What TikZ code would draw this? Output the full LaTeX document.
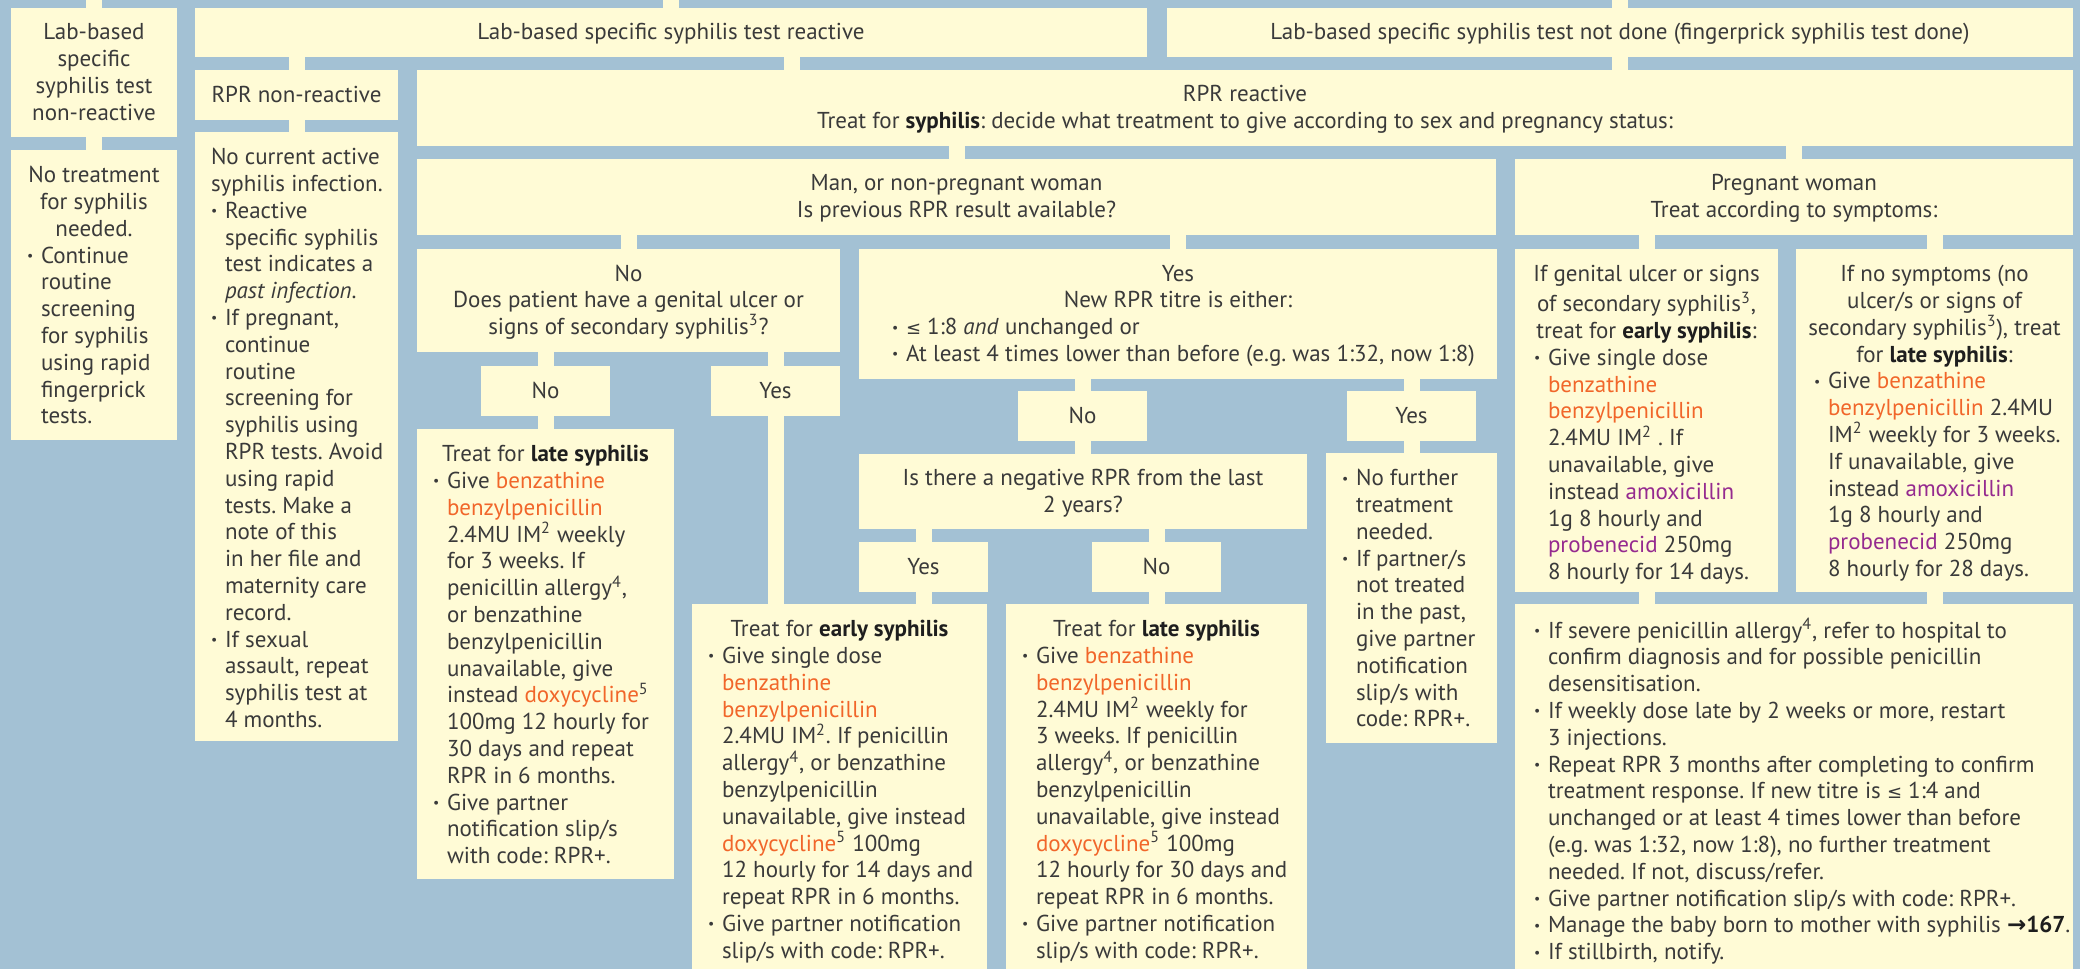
\documentclass[tikz,border=0pt]{standalone}
\usepackage{fontspec}
\setmainfont{PT Sans}
\newfontfamily\symf{DejaVu Sans}
\definecolor{bgblue}{HTML}{A3C1D4}
\definecolor{cream}{HTML}{FFFBD6}
\definecolor{txt}{HTML}{3A3A3A}
\definecolor{boldtxt}{HTML}{1E1E1E}
\definecolor{orng}{HTML}{F1662A}
\definecolor{purp}{HTML}{952A8F}
\newcommand\og[1]{\textcolor{orng}{#1}}
\newcommand\pp[1]{\textcolor{purp}{#1}}
\newcommand\sps[1]{\textsuperscript{#1}}
\newcommand\bd[1]{\textcolor{boldtxt}{\textbf{#1}}}
\newlength\padL \setlength\padL{8pt}
\newlength\hangw \setlength\hangw{7pt}
\newlength\toppad \setlength\toppad{7pt}
\newcommand\bult{\raisebox{0.12em}{\scalebox{0.6}{•}}}
\newcommand\cen[1]{{\centering\strut#1\strut\par}}
\newcommand\lft[1]{{\raggedright\leftskip=\padL\relax\noindent\strut#1\strut\par}}
\newcommand\bul[2][\padL]{{\raggedright\let\\\newline\leftskip=#1\relax\hangindent=\hangw\hangafter=1\noindent\strut\makebox[\hangw][l]{\bult}#2\strut\par}}
\newcommand\tbox[6]{%
  \pgfmathsetlengthmacro\bw{(#4-#2)*0.5}%
  \pgfmathsetlengthmacro\bh{(#5-#3)*0.5}%
  \node[bx,anchor=north west] (#1) at (#2,#3) {\parbox[c][\bh][t]{\bw}{\vspace*{\toppad}#6}};}
\newcommand\cbox[6]{%
  \pgfmathsetlengthmacro\bw{(#4-#2)*0.5}%
  \pgfmathsetlengthmacro\bh{(#5-#3)*0.5}%
  \node[bx,anchor=north west] (#1) at (#2,#3) {\parbox[c][\bh][c]{\bw}{\vspace*{2pt}#6}};}
\tikzset{
  bx/.style={fill=cream,inner sep=0pt,outer sep=0pt,text=txt,font=\fontsize{11.5}{13.4}\selectfont\frenchspacing},
  conn/.style={draw=cream,line width=8pt,shorten <=-0.6pt,shorten >=-0.6pt}
}
\begin{document}
\begin{tikzpicture}[x=0.5pt,y=-0.5pt]
\useasboundingbox (0,0) rectangle (2080,969);
\fill[bgblue] (0,0) rectangle (2080,969);
% row 1
\cbox{A}{11}{8}{177}{137}{\cen{Lab-based\\specific\\syphilis test\\non-reactive}}
\cbox{R}{195}{8}{1147}{57}{\cen{Lab-based specific syphilis test reactive}}
\cbox{ND}{1167}{8}{2073}{57}{\cen{Lab-based specific syphilis test not done (fingerprick syphilis test done)}}
\tbox{A2}{11}{150}{177}{440}{\cen{No treatment\\for syphilis\\needed.}\bul{Continue\\routine\\screening\\for syphilis\\using rapid\\fingerprick\\tests.}}
% row 2
\cbox{RN}{195}{70}{398}{120}{\cen{RPR non-reactive}}
\tbox{RN2}{195}{132}{398}{741}{\lft{No current active\\syphilis infection.}\bul{Reactive\\specific syphilis\\test indicates a\\\textit{past infection}.}\bul{If pregnant,\\continue\\routine\\screening for\\syphilis using\\RPR tests. Avoid\\using rapid\\tests. Make a\\note of this\\in her file and\\maternity care\\record.}\bul{If sexual\\assault, repeat\\syphilis test at\\4 months.}}
\cbox{RR}{417}{70}{2073}{146}{\cen{RPR reactive\\Treat for \bd{syphilis}: decide what treatment to give according to sex and pregnancy status:}}
% row 3
\cbox{M}{417}{159}{1496}{235}{\cen{Man, or non-pregnant woman\\Is previous RPR result available?}}
\cbox{P}{1515}{159}{2073}{235}{\cen{Pregnant woman\\Treat according to symptoms:}}
% row 4
\cbox{Q1}{417}{249}{840}{352}{\cen{No\\Does patient have a genital ulcer or\\signs of secondary syphilis\sps{3}?}}
\cbox{Y1}{859}{249}{1497}{379}{\cen{Yes\\New RPR titre is either:}\bul[16.5pt]{{\symf\small≤} 1:8 \textit{and} unchanged or}\bul[16.5pt]{At least 4 times lower than before (e.g. was 1:32, now 1:8)}}
\tbox{PG}{1515}{249}{1778}{592}{\cen{If genital ulcer or signs\\of secondary syphilis\sps{3},\\treat for \bd{early syphilis}:}\bul[9.5pt]{Give single dose\\\og{benzathine}\\\og{benzylpenicillin}\\2.4MU IM\sps{2} . If\\unavailable, give\\instead \pp{amoxicillin}\\1g 8 hourly and\\\pp{probenecid} 250mg\\8 hourly for 14 days.}}
\tbox{PN}{1796}{249}{2073}{592}{\cen{If no symptoms (no\\ulcer/s or signs of\\secondary syphilis\sps{3}), treat\\for \bd{late syphilis}:}\bul[9pt]{Give \og{benzathine}\\\og{benzylpenicillin} 2.4MU\\IM\sps{2} weekly for 3 weeks.\\If unavailable, give\\instead \pp{amoxicillin}\\1g 8 hourly and\\\pp{probenecid} 250mg\\8 hourly for 28 days.}}
% small boxes
\cbox{N1}{481}{366}{610}{416}{\cen{No}}
\cbox{Ys1}{711}{366}{840}{416}{\cen{Yes}}
\cbox{N2}{1018}{391}{1147}{441}{\cen{No}}
\cbox{Ys2}{1347}{391}{1476}{441}{\cen{Yes}}
\cbox{NEG}{859}{454}{1307}{529}{\cen{Is there a negative RPR from the last\\2 years?}}
\cbox{Ys3}{859}{542}{988}{592}{\cen{Yes}}
\cbox{N3}{1092}{542}{1221}{592}{\cen{No}}
% treatment boxes
\tbox{L1}{417}{429}{674}{879}{\cen{Treat for \bd{late syphilis}}\bul{Give \og{benzathine}\\\og{benzylpenicillin}\\2.4MU IM\sps{2} weekly\\for 3 weeks. If\\penicillin allergy\sps{4},\\or benzathine\\benzylpenicillin\\unavailable, give\\instead \og{doxycycline}\sps{5}\\100mg 12 hourly for\\30 days and repeat\\RPR in 6 months.}\bul{Give partner\\notification slip/s\\with code: RPR+.}}
\tbox{E1}{692}{604}{987}{969}{\cen{Treat for \bd{early syphilis}}\bul{Give single dose\\\og{benzathine}\\\og{benzylpenicillin}\\2.4MU IM\sps{2}. If penicillin\\allergy\sps{4}, or benzathine\\benzylpenicillin\\unavailable, give instead\\\og{doxycycline}\sps{5} 100mg\\12 hourly for 14 days and\\repeat RPR in 6 months.}\bul{Give partner notification\\slip/s with code: RPR+.}}
\tbox{L2}{1006}{604}{1307}{969}{\cen{Treat for \bd{late syphilis}}\bul{Give \og{benzathine}\\\og{benzylpenicillin}\\2.4MU IM\sps{2} weekly for\\3 weeks. If penicillin\\allergy\sps{4}, or benzathine\\benzylpenicillin\\unavailable, give instead\\\og{doxycycline}\sps{5} 100mg\\12 hourly for 30 days and\\repeat RPR in 6 months.}\bul{Give partner notification\\slip/s with code: RPR+.}}
\tbox{NF}{1326}{453}{1497}{743}{\bul{No further\\treatment\\needed.}\bul{If partner/s\\not treated\\in the past,\\give partner\\notification\\slip/s with\\code: RPR+.}}
\tbox{PB}{1515}{604}{2073}{969}{\bul[9.5pt]{If severe penicillin allergy\sps{4}, refer to hospital to\\confirm diagnosis and for possible penicillin\\desensitisation.}\bul[9.5pt]{If weekly dose late by 2 weeks or more, restart\\3 injections.}\bul[9.5pt]{Repeat RPR 3 months after completing to confirm\\treatment response. If new titre is {\symf\small≤} 1:4 and\\unchanged or at least 4 times lower than before\\(e.g. was 1:32, now 1:8), no further treatment\\needed. If not, discuss/refer.}\bul[9.5pt]{Give partner notification slip/s with code: RPR+.}\bul[9.5pt]{Manage the baby born to mother with syphilis \bd{{\symf→}167}.}\bul[9.5pt]{If stillbirth, notify.}}
% connectors
\coordinate (tA) at (94,0);
\coordinate (tR) at (671,0);
\coordinate (tND) at (1620,0);
\coordinate (cRR) at (792,0);
\draw[conn] (tA) -- (A.north);
\draw[conn] (tR) -- (R.north);
\draw[conn] (tND) -- (ND.north);
\draw[conn] (A.south) -- (A2.north);
\draw[conn] (R.south -| RN.north) -- (RN.north);
\draw[conn] (R.south -| cRR) -- (RR.north -| cRR);
\draw[conn] (ND.south) -- (RR.north -| ND.south);
\draw[conn] (RN.south) -- (RN2.north);
\draw[conn] (RR.south -| M.north) -- (M.north);
\draw[conn] (RR.south -| P.north) -- (P.north);
\draw[conn] (M.south -| Q1.north) -- (Q1.north);
\draw[conn] (M.south -| Y1.north) -- (Y1.north);
\draw[conn] (P.south -| PG.north) -- (PG.north);
\draw[conn] (P.south -| PN.north) -- (PN.north);
\draw[conn] (Q1.south -| N1.north) -- (N1.north);
\draw[conn] (Q1.south -| Ys1.north) -- (Ys1.north);
\draw[conn] (N1.south) -- (L1.north -| N1.south);
\draw[conn] (Ys1.south) -- (E1.north -| Ys1.south);
\draw[conn] (Y1.south -| N2.north) -- (N2.north);
\draw[conn] (Y1.south -| Ys2.north) -- (Ys2.north);
\draw[conn] (N2.south) -- (NEG.north -| N2.south);
\draw[conn] (Ys2.south) -- (NF.north -| Ys2.south);
\draw[conn] (NEG.south -| Ys3.north) -- (Ys3.north);
\draw[conn] (NEG.south -| N3.north) -- (N3.north);
\draw[conn] (Ys3.south) -- (E1.north -| Ys3.south);
\draw[conn] (N3.south) -- (L2.north -| N3.south);
\draw[conn] (PG.south) -- (PB.north -| PG.south);
\draw[conn] (PN.south) -- (PB.north -| PN.south);
\end{tikzpicture}
\end{document}
